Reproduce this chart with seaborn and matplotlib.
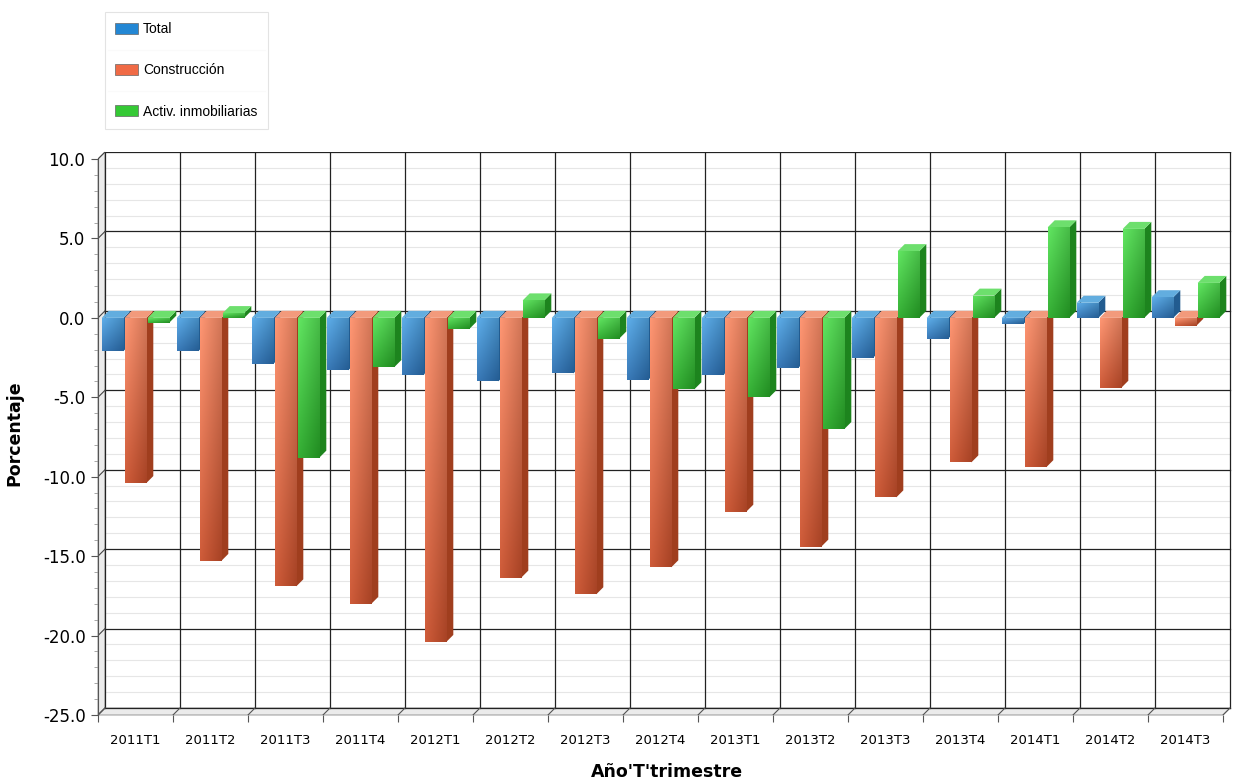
import numpy as np
import pandas as pd
import matplotlib
matplotlib.use("Agg")
import matplotlib.pyplot as plt
import seaborn as sns
from matplotlib.patches import Polygon, Patch
from matplotlib.lines import Line2D
from matplotlib.ticker import MultipleLocator, FormatStrFormatter, FixedLocator

# ---------------- data ----------------
categories = ["2011T1", "2011T2", "2011T3", "2011T4", "2012T1", "2012T2", "2012T3", "2012T4",
              "2013T1", "2013T2", "2013T3", "2013T4", "2014T1", "2014T2", "2014T3"]
series = ["Total", "Construcción", "Activ. inmobiliarias"]
total = [-2.1, -2.1, -2.9, -3.3, -3.6, -4.0, -3.5, -3.9, -3.6, -3.15, -2.5, -1.3, -0.4, 0.95, 1.3]
construccion = [-10.4, -15.3, -16.9, -18.0, -20.4, -16.35, -17.4, -15.7, -12.2, -14.4, -11.3, -9.1, -9.4, -4.4, -0.5]
activ = [-0.3, 0.3, -8.8, -3.1, -0.7, 1.1, -1.3, -4.5, -5.0, -7.0, 4.2, 1.4, 5.7, 5.6, 2.2]

legend_colors = ["#2387d4", "#f06a45", "#35c935"]
front_top = ["#4f9fdb", "#ef8764", "#52d652"]
front_bot = ["#2a6aa8", "#bf4c2a", "#26a026"]
side_col = ["#225c90", "#a03e1e", "#1d841e"]
cap_col = ["#62addf", "#f29a7c", "#6ddf6d"]

df = pd.DataFrame({
    "Periodo": categories * 3,
    "Serie": [series[0]] * 15 + [series[1]] * 15 + [series[2]] * 15,
    "Valor": total + construccion + activ,
})

# ---------------- figure ----------------
W, H = 1236, 782
fig = plt.figure(figsize=(W / 100, H / 100), dpi=100)
plt.rcParams['font.family'] = ['DejaVu Sans']
ax_left, ax_right, ax_bottom_px, ax_top_px = 98, 1236, 715, 152
ax = fig.add_axes([ax_left / W, (H - ax_bottom_px) / H, (ax_right - ax_left) / W,
                   (ax_bottom_px - ax_top_px) / H])

ymin, ymax_tick = -25.0, 10.0
px_per_unit = (715 - 159) / (ymax_tick - ymin)
ddy = 7 / px_per_unit      # 3D depth vertical (data units)
ddx = 7 / 75               # 3D depth horizontal (category units)
xlim = (-0.5, -0.5 + (ax_right - ax_left) / 75)
ylim = (ymin, ymax_tick + ddy)

sns.barplot(data=df, x="Periodo", y="Valor", hue="Serie", order=categories, hue_order=series,
            palette=legend_colors, width=0.92, gap=0.06, errorbar=None, saturation=1,
            legend=False, ax=ax)

ax.set_facecolor("white")

# back-wall grid (shifted by depth)
for v in np.arange(ymin, ymax_tick + 0.01, 1.0):
    major = abs(v % 5) < 1e-6
    ax.plot([xlim[0] + ddx, 14.5 + ddx], [v + ddy, v + ddy],
            color="#222222" if major else "#e6e6e6", lw=0.9 if major else 0.8, zorder=1)
    if major:
        ax.plot([xlim[0], xlim[0] + ddx], [v, v + ddy], color="#444444", lw=0.8, zorder=1.1)
for b in np.arange(-0.5, 14.51, 1.0):
    ax.plot([b + ddx, b + ddx], [ymin + ddy, ymax_tick + ddy], color="#222222", lw=0.9, zorder=1)
    ax.plot([b, b + ddx], [ymin, ymin + ddy], color="#555555", lw=0.8, zorder=1.1)

# left wall and floor
ax.add_patch(Polygon([(xlim[0], ymin), (xlim[0] + ddx, ymin + ddy), (xlim[0] + ddx, ymax_tick + ddy),
                      (xlim[0], ymax_tick)], closed=True, facecolor="#ebebeb", edgecolor="#888888",
                     lw=0.6, zorder=0.9, clip_on=False))
ax.add_patch(Polygon([(xlim[0], ymin), (14.5, ymin), (14.5 + ddx, ymin + ddy),
                      (xlim[0] + ddx, ymin + ddy)], closed=True, facecolor="#ebebeb",
                     edgecolor="#888888", lw=0.6, zorder=0.9, clip_on=False))

# 3D bars
hexes = [matplotlib.colors.to_hex(c) for c in legend_colors]
bars = sorted([p for p in ax.patches if matplotlib.colors.to_hex(p.get_facecolor()) in hexes
               and p.get_width() < 0.5], key=lambda p: p.get_x())
for k, p in enumerate(bars):
    x0 = p.get_x(); w = p.get_width(); y0 = p.get_y(); h = p.get_height()
    x1 = x0 + w
    top = max(y0, y0 + h); bot = min(y0, y0 + h)
    si = hexes.index(matplotlib.colors.to_hex(p.get_facecolor()))
    z = 3 + k * 0.01
    side = Polygon([(x1, bot), (x1 + ddx, bot + ddy), (x1 + ddx, top + ddy), (x1, top)],
                   closed=True, facecolor=side_col[si], edgecolor="none", zorder=z)
    cap = Polygon([(x0, top), (x0 + ddx, top + ddy), (x1 + ddx, top + ddy), (x1, top)],
                  closed=True, facecolor=cap_col[si], edgecolor="none", zorder=z)
    ax.add_patch(side); ax.add_patch(cap)
    p.set_zorder(z + 0.004)
    p.set_edgecolor("none")
    c_top = np.array(matplotlib.colors.to_rgb(front_top[si]))
    c_bot = np.array(matplotlib.colors.to_rgb(front_bot[si]))
    t = np.linspace(0, 1, 60).reshape(-1, 1, 1)
    s = np.linspace(0, 1, 20).reshape(1, -1, 1)
    img = c_top * (1 - t) + c_bot * t
    img = img * (1 - 0.12 * s) + 0.06 * (1 - s)
    img = np.clip(img, 0, 1)
    im = ax.imshow(img, extent=[x0, x1, bot, top], origin="upper", aspect="auto",
                   zorder=z + 0.005, interpolation="bilinear")
    im.set_clip_path(p)

ax.set_xlim(*xlim)
ax.set_ylim(*ylim)

# axes styling
for s_ in ["top", "right", "bottom"]:
    ax.spines[s_].set_visible(False)
ax.spines["left"].set_bounds(ymin, ymax_tick)
ax.spines["left"].set_color("#555555")
ax.yaxis.set_major_locator(MultipleLocator(5))
ax.yaxis.set_minor_locator(MultipleLocator(1))
ax.yaxis.set_major_formatter(FormatStrFormatter("%.1f"))
ax.tick_params(axis="y", which="major", length=5, width=0.8, color="#555555", labelsize=12, pad=4)
ax.tick_params(axis="y", which="minor", length=3, width=0.6, color="#999999")
ax.set_xticks(range(len(categories)))
ax.set_xticklabels(categories)
ax.xaxis.set_minor_locator(FixedLocator(np.arange(-0.5, 14.51, 1.0)))
ax.tick_params(axis="x", which="major", length=0, labelsize=9.5, pad=13.5)
ax.tick_params(axis="x", which="minor", length=5, width=0.8, color="#555555")
ax.set_xlabel("Año'T'trimestre", fontsize=12.5, fontweight="bold", labelpad=12)
ax.set_ylabel("Porcentaje", fontsize=12.5, fontweight="bold", labelpad=14)
ax.grid(False)

# legend
handles = [Patch(facecolor=c, edgecolor="#666666", lw=0.5, label=l) for c, l in zip(legend_colors, series)]
leg = fig.legend(handles=handles, loc="upper left", bbox_to_anchor=(105 / W, 1 - 12 / H),
                 borderaxespad=0, frameon=True, fancybox=False,
                 prop={"family": ["Liberation Sans", "DejaVu Sans"], "size": 10},
                 labelspacing=1.95, handlelength=1.6, handleheight=0.85, handletextpad=0.4,
                 borderpad=0.75, edgecolor="#dddddd")
leg.get_frame().set_linewidth(0.8)

# separator lines between legend entries
fig.canvas.draw()
r = fig.canvas.get_renderer()
fb = leg.get_frame().get_window_extent(r)
tb = [t.get_window_extent(r) for t in leg.get_texts()]
for a, b in zip(tb[:-1], tb[1:]):
    ymid = (a.y0 + b.y1) / 2
    fig.add_artist(Line2D([(fb.x0 + 3) / W, (fb.x1 - 3) / W], [ymid / H, ymid / H],
                          color="#e8e8e8", lw=0.8))

fig.savefig("out.png", dpi=100, facecolor="white")
